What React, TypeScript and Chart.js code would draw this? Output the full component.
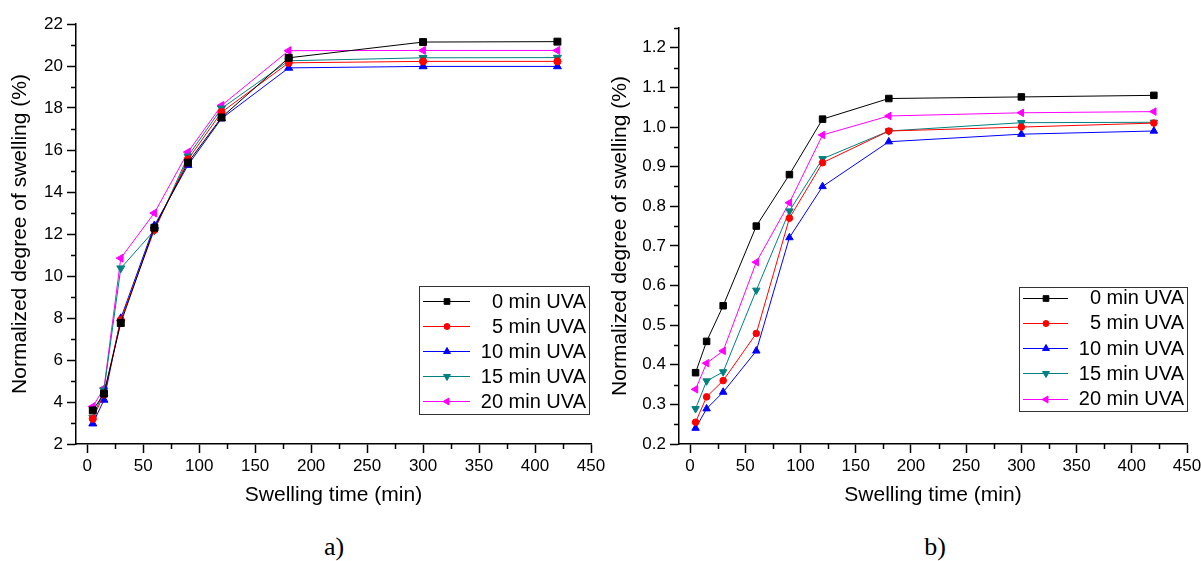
import React, { useEffect, useRef } from 'react';
import { Chart, registerables } from 'chart.js';

Chart.register(...registerables);

// ---------- data ----------
const swellingTimes = [5, 15, 30, 60, 90, 120, 180, 300, 420];
const seriesLabels = ['0 min UVA', '5 min UVA', '10 min UVA', '15 min UVA', '20 min UVA'];
const seriesColors = ['#000000', '#ff0000', '#0000ff', '#008080', '#ff00ff'];
const seriesPointStyles = ['rect', 'circle', 'triangle', 'triangle', 'triangle'];
const seriesPointRotations = [0, 0, 0, 180, 270];

// chart a) normalized degree of swelling (%)
const a0min = [3.6, 4.4, 7.76, 12.3, 15.4, 17.55, 20.39, 21.14, 21.16];
const a5min = [3.2, 4.37, 7.9, 12.2, 15.55, 17.8, 20.15, 20.22, 20.22];
const a10min = [2.97, 4.1, 7.98, 12.4, 15.28, 17.5, 19.91, 19.98, 19.98];
const a15min = [3.26, 4.56, 10.37, 12.17, 15.7, 17.98, 20.25, 20.39, 20.4];
const a20min = [3.78, 4.66, 10.85, 13.0, 15.9, 18.12, 20.73, 20.74, 20.74];

// chart b)
const b0min = [0.38, 0.459, 0.549, 0.75, 0.88, 1.02, 1.072, 1.076, 1.08];
const b5min = [0.255, 0.319, 0.36, 0.479, 0.77, 0.91, 0.99, 1.0, 1.01];
const b10min = [0.24, 0.289, 0.331, 0.435, 0.721, 0.85, 0.963, 0.982, 0.99];
const b15min = [0.289, 0.359, 0.382, 0.588, 0.788, 0.92, 0.99, 1.011, 1.012];
const b20min = [0.338, 0.404, 0.435, 0.659, 0.809, 0.98, 1.028, 1.036, 1.039];

// ticks
const xMajorTicks = [0, 50, 100, 150, 200, 250, 300, 350, 400, 450];
const xMinorTicks = [25, 75, 125, 175, 225, 275, 325, 375, 425];
const aYMajorTicks = [2, 4, 6, 8, 10, 12, 14, 16, 18, 20, 22];
const aYMinorTicks = [3, 5, 7, 9, 11, 13, 15, 17, 19, 21];
const bYMajorTicks = [0.2, 0.3, 0.4, 0.5, 0.6, 0.7, 0.8, 0.9, 1.0, 1.1, 1.2];
const bYMinorTicks = [0.25, 0.35, 0.45, 0.55, 0.65, 0.75, 0.85, 0.95, 1.05, 1.15, 1.25];

const xTitle = 'Swelling time (min)';
const yTitle = 'Normalized degree of swelling (%)';

const FONT = "'Liberation Sans', Arial, sans-serif";

function drawMarker(ctx: CanvasRenderingContext2D, style: string, rot: number, x: number, y: number, r: number, color: string) {
  ctx.save();
  ctx.fillStyle = color;
  ctx.strokeStyle = color;
  ctx.lineWidth = 1;
  ctx.translate(x, y);
  ctx.rotate((rot * Math.PI) / 180);
  ctx.beginPath();
  if (style === 'rect') {
    const s = r * Math.SQRT1_2;
    ctx.rect(-s, -s, 2 * s, 2 * s);
  } else if (style === 'circle') {
    ctx.arc(0, 0, r, 0, Math.PI * 2);
  } else {
    let a = 0;
    ctx.moveTo(Math.sin(a) * r, -Math.cos(a) * r);
    a += (2 * Math.PI) / 3;
    ctx.lineTo(Math.sin(a) * r, -Math.cos(a) * r);
    a += (2 * Math.PI) / 3;
    ctx.lineTo(Math.sin(a) * r, -Math.cos(a) * r);
    ctx.closePath();
  }
  ctx.fill();
  ctx.stroke();
  ctx.restore();
}

type LegendBox = {
  left: number; top: number; right: number; bottom: number;
  rowY0: number; rowStep: number; lineX0: number; lineX1: number; markerX: number; textRight: number;
};

function makeConfig(
  values: number[][],
  yMin: number, yMax: number,
  yMajor: number[], yMinor: number[],
  yWidth: number, padTop: number, padRight: number,
  legend: LegendBox,
  yFmt: (v: number) => string,
  pointSize: number
): any {
  const datasets = values.map((vals, i) => ({
    label: seriesLabels[i],
    data: swellingTimes.map((t, j) => ({ x: t, y: vals[j] })),
    borderColor: seriesColors[i],
    backgroundColor: seriesColors[i],
    borderWidth: 1,
    pointStyle: seriesPointStyles[i],
    pointRotation: seriesPointRotations[i],
    pointRadius: seriesPointStyles[i] === 'circle' ? pointSize - 1 : seriesPointStyles[i] === 'rect' ? pointSize + 0.3 : pointSize,
    pointBorderWidth: 1,
    tension: 0,
  }));

  const extras = {
    id: 'extras',
    afterDraw(chart: any) {
      const ctx: CanvasRenderingContext2D = chart.ctx;
      const xs = chart.scales.x;
      const ys = chart.scales.y;
      const area = chart.chartArea;
      ctx.save();
      ctx.strokeStyle = '#000';
      ctx.lineWidth = 1.5;
      ctx.beginPath();
      xMinorTicks.forEach((v) => {
        const px = Math.round(xs.getPixelForValue(v)) + 0.5;
        ctx.moveTo(px, area.bottom);
        ctx.lineTo(px, area.bottom + 5);
      });
      yMinor.forEach((v) => {
        const py = Math.round(ys.getPixelForValue(v)) + 0.5;
        ctx.moveTo(area.left, py);
        ctx.lineTo(area.left - 5, py);
      });
      ctx.stroke();

      // legend box
      ctx.fillStyle = '#fff';
      ctx.fillRect(legend.left, legend.top, legend.right - legend.left, legend.bottom - legend.top);
      ctx.lineWidth = 1;
      ctx.strokeStyle = '#333';
      ctx.strokeRect(legend.left + 0.5, legend.top + 0.5, legend.right - legend.left, legend.bottom - legend.top);
      ctx.font = `20px ${FONT}`;
      ctx.textAlign = 'right';
      ctx.textBaseline = 'middle';
      seriesLabels.forEach((lab, i) => {
        const y = legend.rowY0 + i * legend.rowStep;
        ctx.strokeStyle = seriesColors[i];
        ctx.lineWidth = 1;
        ctx.beginPath();
        ctx.moveTo(legend.lineX0, Math.round(y) + 0.5);
        ctx.lineTo(legend.lineX1, Math.round(y) + 0.5);
        ctx.stroke();
        drawMarker(ctx, seriesPointStyles[i], seriesPointRotations[i], legend.markerX, Math.round(y) + 0.5,
          seriesPointStyles[i] === 'circle' ? 3 : 4, seriesColors[i]);
        ctx.fillStyle = '#000';
        ctx.fillText(lab, legend.textRight, y + 1);
      });
      ctx.restore();
    },
  };

  return {
    type: 'line',
    data: { datasets },
    plugins: [extras],
    options: {
      animation: false,
      responsive: false,
      maintainAspectRatio: false,
      layout: { padding: { left: 0, top: padTop, right: padRight, bottom: 0 } },
      plugins: { legend: { display: false }, tooltip: { enabled: false } },
      scales: {
        x: {
          type: 'linear',
          min: -10,
          max: 450,
          afterBuildTicks: (s: any) => { s.ticks = xMajorTicks.map((v) => ({ value: v })); },
          afterFit: (s: any) => { s.height = 76; s.paddingLeft = 0; s.paddingRight = 0; },
          grid: { drawOnChartArea: false, drawTicks: true, tickLength: 9, tickWidth: 1.5, tickColor: '#000' },
          border: { display: true, color: '#000', width: 1.5 },
          ticks: { color: '#000', font: { family: FONT, size: 17 }, padding: 3, maxRotation: 0, autoSkip: false },
          title: { display: true, text: xTitle, color: '#000', font: { family: FONT, size: 21 }, padding: { top: 0, bottom: 12 } },
        },
        y: {
          type: 'linear',
          min: yMin,
          max: yMax,
          afterBuildTicks: (s: any) => { s.ticks = yMajor.map((v) => ({ value: v })); },
          afterFit: (s: any) => { s.width = yWidth; s.paddingTop = 0; s.paddingBottom = 0; },
          grid: { drawOnChartArea: false, drawTicks: true, tickLength: 9, tickWidth: 1.5, tickColor: '#000' },
          border: { display: true, color: '#000', width: 1.5 },
          ticks: { color: '#000', font: { family: FONT, size: 17 }, padding: 4, autoSkip: false, callback: (v: any) => yFmt(Number(v)) },
          title: { display: true, text: yTitle, color: '#000', font: { family: FONT, size: 21 }, padding: { top: 8, bottom: 0 } },
        },
      },
    },
  };
}

function ChartCanvas({ config, width, height, left }: { config: () => any; width: number; height: number; left: number }) {
  const ref = useRef<HTMLCanvasElement | null>(null);
  useEffect(() => {
    if (!ref.current) return;
    const chart = new Chart(ref.current, config());
    return () => chart.destroy();
  }, []);
  return (
    <canvas
      ref={ref}
      width={width}
      height={height}
      style={{ position: 'absolute', left, top: 0, width, height }}
    />
  );
}

export default function App() {
  const cfgA = () =>
    makeConfig(
      [a0min, a5min, a10min, a15min, a20min],
      2, 22, aYMajorTicks, aYMinorTicks,
      76, 24, 24,
      { left: 419, top: 286, right: 589, bottom: 414, rowY0: 301, rowStep: 25, lineX0: 423, lineX1: 470, markerX: 447, textRight: 586 },
      (v) => String(Math.round(v)),
      4.6
    );
  const cfgB = () =>
    makeConfig(
      [b0min, b5min, b10min, b15min, b20min],
      0.2, 1.25, bYMajorTicks, bYMinorTicks,
      79, 28, 14,
      { left: 419, top: 287, right: 587, bottom: 411, rowY0: 297.5, rowStep: 25.3, lineX0: 423, lineX1: 468, markerX: 446, textRight: 584 },
      (v) => v.toFixed(1),
      4.3
    );
  return (
    <div style={{ position: 'absolute', left: 0, top: 0, width: 1201, height: 561, background: '#fff', overflow: 'hidden' }}>
      <ChartCanvas config={cfgA} width={615} height={520} left={0} />
      <ChartCanvas config={cfgB} width={601} height={520} left={600} />
      <div style={{ position: 'absolute', left: 334, top: 547, transform: 'translate(-50%, -50%)', fontFamily: "'Liberation Serif', serif", fontSize: 26, color: '#000', whiteSpace: 'nowrap' }}>a)</div>
      <div style={{ position: 'absolute', left: 935, top: 547, transform: 'translate(-50%, -50%)', fontFamily: "'Liberation Serif', serif", fontSize: 26, color: '#000', whiteSpace: 'nowrap' }}>b)</div>
    </div>
  );
}
